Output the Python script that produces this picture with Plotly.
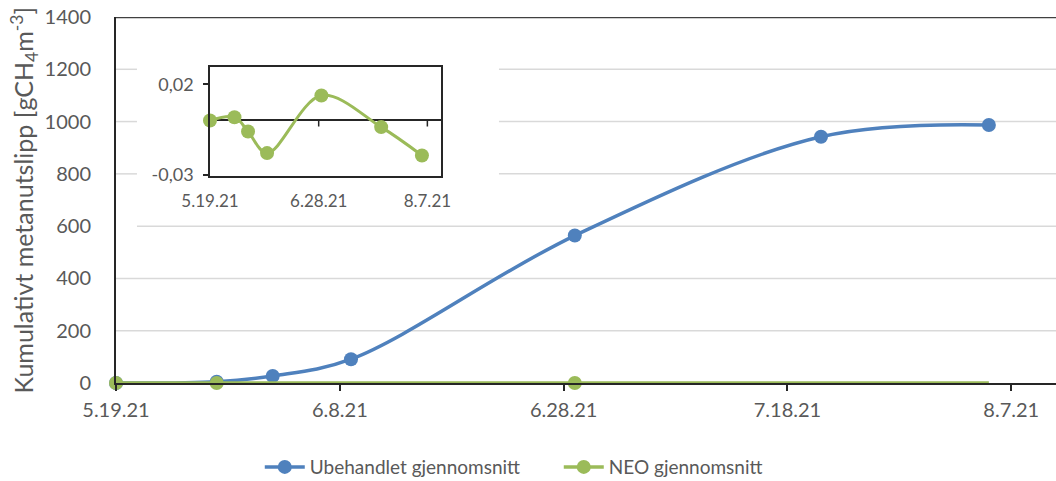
import plotly.graph_objects as go

# Sampling dates and the two averaged series
dates = ["2021-05-19", "2021-05-28", "2021-06-02", "2021-06-09",
         "2021-06-29", "2021-07-21", "2021-08-05"]
ubehandlet = [0, 5, 27, 91, 564, 942, 987]
neo = [0, 0.0018, -0.0061, -0.0181, 0.0138, -0.0037, -0.0194]

main_ticks = ["2021-05-19", "2021-06-08", "2021-06-28", "2021-07-18", "2021-08-07"]
main_tick_text = ["5.19.21", "6.8.21", "6.28.21", "7.18.21", "8.7.21"]
y_ticks = [0, 200, 400, 600, 800, 1000, 1200, 1400]

inset_ticks = ["2021-05-19", "2021-06-28", "2021-08-07"]
inset_tick_text = ["5.19.21", "6.28.21", "8.7.21"]
inset_y_ticks = [-0.03, 0.02]
inset_y_text = ["-0,03", "0,02"]

y_title = "Kumulativt metanutslipp [gCH<sub>4</sub>m<sup>-3</sup>]"

BLUE = "#4F81BD"
GREEN = "#9BBB59"
TXT = "#595959"
AXIS = "#262626"
GRID = "#D9D9D9"
FONT = "Lato"

# horizontal extent (x domain fraction) of the white panel holding the inset
PANEL_X = (0.0223, 0.4074)
PANEL_Y = (700, 1300)

fig = go.Figure()

# main chart
fig.add_trace(go.Scatter(
    x=dates, y=ubehandlet, mode="lines+markers", name="Ubehandlet gjennomsnitt",
    line=dict(color=BLUE, width=3.5, shape="spline"),
    marker=dict(color=BLUE, size=14), cliponaxis=False,
    xaxis="x", yaxis="y"))
fig.add_trace(go.Scatter(
    x=dates, y=neo, mode="lines+markers", name="NEO gjennomsnitt",
    line=dict(color=GREEN, width=3.5, shape="spline"),
    marker=dict(color=GREEN, size=14), cliponaxis=False,
    selectedpoints=[0, 1, 4],
    selected=dict(marker=dict(opacity=1)),
    unselected=dict(marker=dict(opacity=0)),
    xaxis="x", yaxis="y"))

# inset: NEO on its own scale
fig.add_trace(go.Scatter(
    x=dates, y=neo, mode="lines+markers", showlegend=False,
    line=dict(color=GREEN, width=3, shape="spline"),
    marker=dict(color=GREEN, size=14), cliponaxis=False,
    xaxis="x2", yaxis="y2"))

shapes = []
# light gridlines, interrupted by the inset panel
for v in y_ticks[1:-1]:
    if PANEL_Y[0] <= v <= PANEL_Y[1]:
        segs = [(0, PANEL_X[0]), (PANEL_X[1], 1)]
    elif v == 600:
        segs = [(PANEL_X[0], 1)]
    else:
        segs = [(0, 1)]
    for a, b in segs:
        shapes.append(dict(type="line", xref="x domain", yref="y",
                           x0=a, x1=b, y0=v, y1=v,
                           line=dict(color=GRID, width=1.5), layer="below"))
# top border of the plot area
shapes.append(dict(type="line", xref="x domain", yref="y", x0=0, x1=1,
                   y0=y_ticks[-1], y1=y_ticks[-1],
                   line=dict(color="#404040", width=2.5), layer="below"))
# inset tick marks sitting on the zero line
for d in inset_ticks[1:]:
    shapes.append(dict(type="line", xref="x2", yref="y2", ysizemode="pixel",
                       yanchor=0, x0=d, x1=d, y0=0, y1=-6,
                       line=dict(color=AXIS, width=1.5)))

fig.update_layout(
    width=1056, height=481,
    margin=dict(l=116, r=0, t=17, b=98, autoexpand=False),
    paper_bgcolor="white", plot_bgcolor="rgba(0,0,0,0)",
    font=dict(family=FONT, color=TXT, size=20),
    showlegend=True,
    legend=dict(orientation="h", xref="container", x=0.246, xanchor="left",
                yref="container", y=0.029, yanchor="middle",
                entrywidth=244, entrywidthmode="pixels",
                font=dict(family=FONT, size=19, color=TXT),
                itemwidth=40, tracegroupgap=0),
    xaxis=dict(
        domain=[0, 1], range=["2021-05-19", "2021-08-11"], automargin=False,
        tickvals=main_ticks, ticktext=main_tick_text,
        showgrid=False, zeroline=False,
        showline=True, linecolor=AXIS, linewidth=1.5,
        ticks="outside", ticklen=6, tickwidth=1.5, tickcolor=AXIS,
        tickfont=dict(family=FONT, size=20, color=TXT),
        ticklabelstandoff=2),
    # labels of the value axis (long transparent ticks set the label gap)
    yaxis=dict(
        domain=[0, 1], range=[0, 1400], tickvals=y_ticks, automargin=False,
        showgrid=False, zeroline=False,
        showline=True, linecolor=AXIS, linewidth=2,
        ticks="outside", ticklen=19, tickwidth=1, tickcolor="rgba(0,0,0,0)",
        tickfont=dict(family=FONT, size=20, color=TXT)),
    # visible short tick marks of the value axis
    yaxis3=dict(
        overlaying="y", anchor="x", side="left", range=[0, 1400],
        tickvals=y_ticks, showticklabels=False, automargin=False,
        showgrid=False, zeroline=False, showline=False,
        ticks="outside", ticklen=7, tickwidth=1.5, tickcolor=AXIS),
    xaxis2=dict(
        domain=[0.1000, 0.3457], anchor="y2", range=["2021-05-19", "2021-08-12"],
        automargin=False,
        tickvals=inset_ticks, ticktext=inset_tick_text,
        showgrid=False, zeroline=False,
        showline=True, mirror=True, linecolor=AXIS, linewidth=1.5,
        ticks="", tickfont=dict(family=FONT, size=17, color=TXT),
        ticklabelstandoff=8),
    yaxis2=dict(
        domain=[0.5646, 0.8642], anchor="x2", range=[-0.031, 0.0298],
        automargin=False,
        tickvals=inset_y_ticks, ticktext=inset_y_text,
        showgrid=False, zeroline=True, zerolinecolor=AXIS, zerolinewidth=1.5,
        showline=True, mirror=True, linecolor=AXIS, linewidth=1.5,
        ticks="outside", ticklen=5, tickwidth=1.5, tickcolor=AXIS,
        tickfont=dict(family=FONT, size=18, color=TXT),
        ticklabelstandoff=6),
    annotations=[dict(
        text=y_title, textangle=-90, showarrow=False,
        xref="paper", yref="paper", x=-0.0984, y=0.5,
        xanchor="center", yanchor="middle",
        font=dict(family=FONT, size=25, color=TXT))],
    shapes=shapes,
)

fig.write_html("out.html")
